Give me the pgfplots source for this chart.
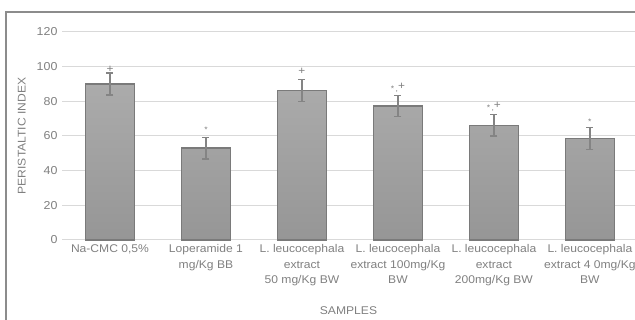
\documentclass[border=0pt]{standalone}
\usepackage{pgfplots}
\pgfplotsset{compat=1.18}
\usepackage{fontspec}
\setmainfont{Liberation Sans}[FakeStretch=1.08]
\definecolor{txt}{HTML}{808080}
\definecolor{gridc}{HTML}{D9D9D9}
\definecolor{barb}{HTML}{7A7A7A}
\definecolor{bartop}{HTML}{ABABAB}
\definecolor{barbot}{HTML}{969696}
\definecolor{errc}{HTML}{848484}
\definecolor{framec}{HTML}{8C8C8C}
\newcommand{\annpl}{{\fontsize{11}{12}\selectfont +}}
\newcommand{\annst}{{\fontsize{8}{9}\selectfont *}}
\newcommand{\annsp}{{\fontsize{8}{9}\selectfont *\,,}\raisebox{2pt}{\fontsize{11}{12}\selectfont +}}
\begin{document}
\begin{tikzpicture}[x=1pt,y=1pt]
\useasboundingbox (0,0) rectangle (635,320);
\draw[framec, line width=1.6pt] (6,-5) -- (6,308) -- (640,308);
\begin{axis}[
  at={(62pt,80pt)}, anchor=south west,
  scale only axis, width=573pt, height=208pt,
  xmin=-0.5, xmax=5.47, ymin=0, ymax=120,
  ytick={0,20,...,120},
  xtick={0,1,2,3,4,5},
  xticklabels={{Na-CMC 0,5\%},{Loperamide 1\\mg/Kg BB},{L. leucocephala\\extract\\50 mg/Kg BW},{L. leucocephala\\extract 100mg/Kg\\BW},{L. leucocephala\\extract\\200mg/Kg BW},{L. leucocephala\\extract 4 0mg/Kg\\BW}},
  xticklabel style={align=center, font=\fontsize{11.2}{15.5}\selectfont, text=txt, anchor=north, yshift=-1pt},
  yticklabel style={font=\fontsize{11.5}{13}\selectfont, text=txt, anchor=east, xshift=-1pt},
  /pgf/number format/assume math mode=true,
  major tick length=0pt,
  axis line style={draw=none},
  ymajorgrids, grid style={gridc, line width=1pt},
  xlabel={SAMPLES}, ylabel={PERISTALTIC INDEX},
  every axis x label/.style={at={(axis description cs:0.5,0)}, yshift=-71pt, anchor=center, font=\fontsize{11.2}{13}\selectfont, text=txt},
  every axis y label/.style={at={(axis description cs:-0.07,0.5)}, rotate=90, anchor=center, font=\fontsize{11.2}{13}\selectfont, text=txt},
  clip=false,
]
\addplot[ybar, bar width=0.51, bar shift=0pt, draw=barb, line width=1.3pt, top color=bartop, bottom color=barbot,
  error bars/.cd, y dir=both, y explicit,
  error bar style={errc, line width=1.3pt},
  error mark options={rotate=90, mark size=3.5pt, errc, line width=1.3pt}]
  table[x=x, y=y, y error=e] {
x y e
0 90.0 6.3
1 53.0 6.2
2 86.2 6.2
3 77.3 6.0
4 66.2 6.2
5 58.5 6.4
};
\addplot[draw=none, mark=none, nodes near coords, point meta=explicit symbolic,
  nodes near coords style={anchor=center, text=txt, inner sep=0pt}]
  table[x=x, y=y, meta=t] {
x y t
0 98.3 \annpl
1 63.5 \annst
2 97.5 \annpl
3 88.0 \annsp
4 76.6 \annsp
5 68.2 \annst
};
\end{axis}
\end{tikzpicture}
\end{document}
